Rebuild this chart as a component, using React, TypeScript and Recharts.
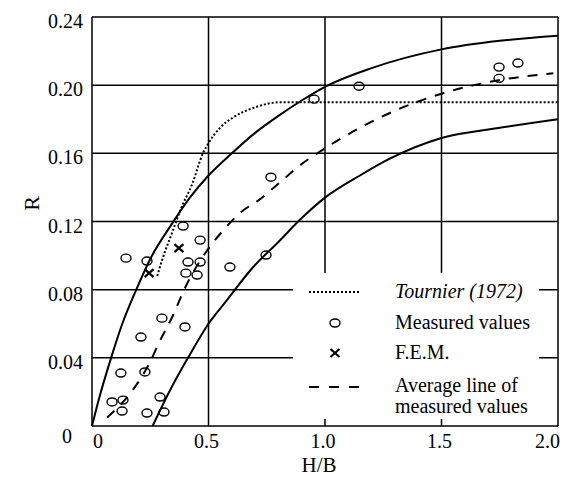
import {
  ComposedChart,
  Line,
  Scatter,
  XAxis,
  YAxis,
  CartesianGrid,
  Legend,
  Label,
} from "recharts";

const SERIF = "serif";

// [H/B, R] pairs
const upperBound: [number, number][] = [
  [0, 0], [0.03, 0.016], [0.082, 0.04], [0.13, 0.06], [0.19, 0.08],
  [0.25, 0.098], [0.34, 0.118], [0.42, 0.134], [0.5, 0.147], [0.6, 0.16],
  [0.7, 0.172], [0.8, 0.182], [0.9, 0.191], [1.0, 0.199], [1.2, 0.21],
  [1.5, 0.221], [1.75, 0.226], [2.0, 0.229],
];

const lowerBound: [number, number][] = [
  [0.26, 0], [0.335, 0.021], [0.412, 0.04], [0.5, 0.06], [0.58, 0.074],
  [0.69, 0.093], [0.8, 0.108], [0.9, 0.122], [1.0, 0.134], [1.15, 0.147],
  [1.28, 0.157], [1.5, 0.169], [1.75, 0.175], [2.0, 0.18],
];

const averageLine: [number, number][] = [
  [0.065, 0.005], [0.163, 0.019], [0.249, 0.0375], [0.288, 0.049],
  [0.348, 0.065], [0.399, 0.081], [0.494, 0.103], [0.558, 0.114],
  [0.635, 0.125], [0.72, 0.133], [0.807, 0.143], [0.893, 0.153],
  [0.978, 0.161], [1.15, 0.175], [1.3, 0.185], [1.5, 0.195],
  [1.75, 0.203], [1.98, 0.207],
];

const tournier: [number, number][] = [
  [0.28, 0.088], [0.3, 0.097], [0.348, 0.115], [0.38, 0.127],
  [0.43, 0.142], [0.476, 0.16], [0.5, 0.166], [0.55, 0.175],
  [0.605, 0.181], [0.7, 0.187], [0.807, 0.19], [1.0, 0.19],
  [1.5, 0.19], [2.0, 0.19],
];

const measured: [number, number][] = [
  [0.086, 0.0141], [0.133, 0.0152], [0.129, 0.0088], [0.236, 0.0076],
  [0.309, 0.0082], [0.292, 0.017], [0.124, 0.0311], [0.227, 0.0317],
  [0.21, 0.0522], [0.3, 0.0633], [0.399, 0.0581], [0.146, 0.0985],
  [0.236, 0.0968], [0.412, 0.0962], [0.464, 0.0962], [0.403, 0.0897],
  [0.451, 0.0886], [0.592, 0.0933], [0.747, 0.1003], [0.464, 0.1091],
  [0.391, 0.1173], [0.768, 0.146], [0.953, 0.1918], [1.146, 0.1994],
  [1.747, 0.2106], [1.747, 0.204], [1.828, 0.213],
];

const fem: [number, number][] = [
  [0.373, 0.1044], [0.245, 0.0897],
];

const xTicks = [0, 0.5, 1, 1.5, 2];
const yTicks = [0, 0.04, 0.08, 0.12, 0.16, 0.2, 0.24];

const toPoints = (pairs: [number, number][]) =>
  pairs.map(([x, r]) => ({ x, r }));

const textProps = { fontFamily: SERIF, fontSize: 20, fill: "#000" };

function XTick({ x, y, payload }: any) {
  const v = payload.value;
  const label = v === 0 ? "0" : v.toFixed(1);
  const anchor = v === 0 ? "start" : v === 2 ? "end" : "middle";
  const dx = v === 0 ? 1 : v === 2 ? 2 : -2;
  return (
    <text x={x + dx} y={y + 22} textAnchor={anchor} {...textProps}>
      {label}
    </text>
  );
}

function YTick({ x, y, payload }: any) {
  const v = payload.value;
  if (v === 0) {
    return (
      <text x={x - 11} y={y + 17} textAnchor="end" {...textProps}>
        0
      </text>
    );
  }
  return (
    <text x={x} y={y + 11} textAnchor="end" {...textProps}>
      {v.toFixed(2)}
    </text>
  );
}

const Circle = ({ cx, cy }: any) => (
  <ellipse cx={cx} cy={cy} rx={5} ry={4} fill="none" stroke="#000" strokeWidth={1.4} />
);

const Cross = ({ cx, cy }: any) => (
  <g stroke="#000" strokeWidth={2.2}>
    <line x1={cx - 4.5} y1={cy - 4} x2={cx + 4.5} y2={cy + 4} />
    <line x1={cx - 4.5} y1={cy + 4} x2={cx + 4.5} y2={cy - 4} />
  </g>
);

function LegendBox() {
  return (
    <svg width={246} height={146} style={{ display: "block", background: "#fff" }}>
      <line x1={16} x2={67} y1={19} y2={19} stroke="#000" strokeWidth={2} strokeDasharray="2 2" />
      <text x={102} y={25} fontStyle="italic" {...textProps}>
        Tournier (1972)
      </text>
      <Circle cx={42} cy={50} />
      <text x={102} y={56} {...textProps}>
        Measured values
      </text>
      <Cross cx={42} cy={80} />
      <text x={102} y={86} {...textProps}>
        F.E.M.
      </text>
      <line x1={16} x2={66} y1={114} y2={114} stroke="#000" strokeWidth={2} strokeDasharray="10 10" />
      <text x={102} y={119} {...textProps}>
        Average line of
      </text>
      <text x={102} y={140} {...textProps}>
        measured values
      </text>
    </svg>
  );
}

export default function App() {
  return (
    <div style={{ position: "absolute", left: 0, top: 0, background: "#fff" }}>
      <ComposedChart
        width={563}
        height={479}
        margin={{ top: 17, right: 5, bottom: 0, left: 0 }}
      >
        <CartesianGrid stroke="#000" strokeWidth={1.5} />
        <XAxis
          dataKey="x"
          type="number"
          domain={[0, 2]}
          ticks={xTicks}
          height={53}
          axisLine={false}
          tickLine={false}
          tickSize={0}
          tickMargin={0}
          tick={<XTick />}
        >
          <Label
            content={({ viewBox }: any) => (
              <text
                x={viewBox.x + viewBox.width / 2 - 6}
                y={viewBox.y + 46}
                textAnchor="middle"
                {...textProps}
                fontSize={21}
              >
                H/B
              </text>
            )}
          />
        </XAxis>
        <YAxis
          type="number"
          domain={[0, 0.24]}
          ticks={yTicks}
          width={92}
          axisLine={false}
          tickLine={false}
          tickSize={0}
          tickMargin={9}
          tick={<YTick />}
        >
          <Label
            content={({ viewBox }: any) => {
              const cx = viewBox.x + 31;
              const cy = viewBox.y + viewBox.height / 2 - 18;
              return (
                <text
                  x={cx}
                  y={cy}
                  textAnchor="middle"
                  dominantBaseline="central"
                  transform={`rotate(-90 ${cx} ${cy})`}
                  {...textProps}
                  fontSize={22}
                >
                  R
                </text>
              );
            }}
          />
        </YAxis>
        <Line
          data={toPoints(upperBound)}
          dataKey="r"
          type="monotone"
          stroke="#000"
          strokeWidth={2}
          dot={false}
          activeDot={false}
          isAnimationActive={false}
        />
        <Line
          data={toPoints(lowerBound)}
          dataKey="r"
          type="monotone"
          stroke="#000"
          strokeWidth={2}
          dot={false}
          activeDot={false}
          isAnimationActive={false}
        />
        <Line
          data={toPoints(averageLine)}
          dataKey="r"
          type="monotone"
          stroke="#000"
          strokeWidth={2}
          strokeDasharray="10 9"
          dot={false}
          activeDot={false}
          isAnimationActive={false}
        />
        <Line
          data={toPoints(tournier)}
          dataKey="r"
          type="monotone"
          stroke="#000"
          strokeWidth={2}
          strokeDasharray="2 2"
          dot={false}
          activeDot={false}
          isAnimationActive={false}
        />
        <Scatter
          data={toPoints(measured)}
          dataKey="r"
          shape={<Circle />}
          isAnimationActive={false}
        />
        <Scatter
          data={toPoints(fem)}
          dataKey="r"
          shape={<Cross />}
          isAnimationActive={false}
        />
        <Legend
          layout="vertical"
          align="center"
          verticalAlign="middle"
          content={<LegendBox />}
          wrapperStyle={{ left: 293, top: 273, width: 246, height: 146 }}
        />
      </ComposedChart>
    </div>
  );
}
